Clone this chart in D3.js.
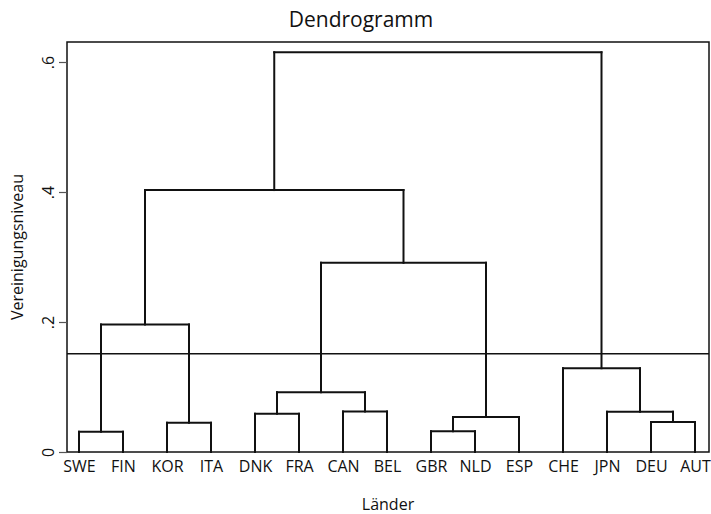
<!DOCTYPE html>
<html>
<head>
<meta charset="utf-8">
<script src="https://cdn.jsdelivr.net/npm/d3@7"></script>
<style>
  body { margin: 0; background: #fff; }
  text { font-family: "Open Sans", sans-serif; fill: #111; }
</style>
</head>
<body>
<svg id="chart" width="711" height="514"></svg>
<script>
// leaf order along the x axis
const leaves = ["SWE", "FIN", "KOR", "ITA", "DNK", "FRA", "CAN", "BEL", "GBR", "NLD", "ESP", "CHE", "JPN", "DEU", "AUT"];

// merges: left child, right child, height ("#k" = result of merge k)
const mergeLeft   = ["SWE", "KOR", "#0",    "DNK",   "CAN",    "#3",    "GBR",   "#6",    "#5",    "#2",    "DEU",   "JPN",   "CHE",   "#9",    ];
const mergeRight  = ["FIN", "ITA", "#1",    "FRA",   "BEL",    "#4",    "NLD",   "ESP",   "#7",    "#8",    "AUT",   "#10",   "#11",   "#12",   ];
const mergeHeight = [0.031, 0.045, 0.196,   0.059,   0.0625,   0.092,   0.032,   0.054,   0.291,   0.403,   0.046,   0.062,   0.129,   0.615];

const yTicks = [0, 0.2, 0.4, 0.6];
const yTickLabels = ["0", ".2", ".4", ".6"];
const cutLevel = 0.151;

const svg = d3.select("#chart");
const margin = { top: 42, right: 2, bottom: 62, left: 67 };
const width = +svg.attr("width") - margin.left - margin.right;
const height = +svg.attr("height") - margin.top - margin.bottom;

const g = svg.append("g")
    .attr("transform", `translate(${margin.left},${margin.top})`);

const x = d3.scalePoint()
    .domain(leaves)
    .range([12, width - 14]);

const y = d3.scaleLinear()
    .domain([0, height / 650])
    .range([height, 0]);

// position and height of every node
const nodes = {};
leaves.forEach(l => { nodes[l] = { x: x(l), h: 0 }; });

const segs = [];
mergeHeight.forEach((h, i) => {
    const a = nodes[mergeLeft[i]];
    const b = nodes[mergeRight[i]];
    segs.push([a.x, a.h, a.x, h]);
    segs.push([b.x, b.h, b.x, h]);
    segs.push([a.x, h, b.x, h]);
    nodes["#" + i] = { x: (a.x + b.x) / 2, h: h };
});

// frame
g.append("rect")
    .attr("x", 0)
    .attr("y", 0)
    .attr("width", width)
    .attr("height", height)
    .attr("fill", "none")
    .attr("stroke", "#111")
    .attr("stroke-width", 1.5);

// y axis
const yAxis = g.append("g")
    .call(d3.axisLeft(y).tickValues(yTicks).tickSize(8).tickFormat((d, i) => yTickLabels[i]));
yAxis.select(".domain").remove();
yAxis.selectAll(".tick line").attr("stroke", "#555").attr("stroke-width", 1.2);
yAxis.selectAll(".tick text")
    .attr("transform", "rotate(-90)")
    .attr("x", 0)
    .attr("y", -13)
    .attr("dy", 0)
    .attr("text-anchor", "middle")
    .style("font-size", "16px")
    .style("font-family", "Open Sans, sans-serif");

// x axis (leaf labels)
const xAxis = g.append("g")
    .attr("transform", `translate(0,${height})`)
    .call(d3.axisBottom(x).tickSize(0).tickPadding(9));
xAxis.select(".domain").remove();
xAxis.selectAll(".tick text")
    .attr("dy", "0.71em")
    .style("font-size", "16px")
    .style("font-family", "Open Sans, sans-serif");

// dendrogram links
g.selectAll(".link")
    .data(segs)
    .enter().append("line")
    .attr("class", "link")
    .attr("x1", d => d[0])
    .attr("y1", d => y(d[1]))
    .attr("x2", d => d[2])
    .attr("y2", d => y(d[3]))
    .attr("stroke", "#111")
    .attr("stroke-width", 2)
    .attr("stroke-linecap", "square");

// cut line
g.append("line")
    .attr("x1", 0)
    .attr("x2", width)
    .attr("y1", y(cutLevel))
    .attr("y2", y(cutLevel))
    .attr("stroke", "#111")
    .attr("stroke-width", 1.5);

// titles
svg.append("text")
    .attr("x", 361)
    .attr("y", 27)
    .attr("text-anchor", "middle")
    .style("font-size", "21px")
    .text("Dendrogramm");

svg.append("text")
    .attr("x", margin.left + width / 2)
    .attr("y", 510)
    .attr("text-anchor", "middle")
    .style("font-size", "16px")
    .text("Länder");

svg.append("text")
    .attr("transform", `translate(23,${margin.top + height / 2}) rotate(-90)`)
    .attr("text-anchor", "middle")
    .style("font-size", "16px")
    .text("Vereinigungsniveau");
</script>
</body>
</html>
